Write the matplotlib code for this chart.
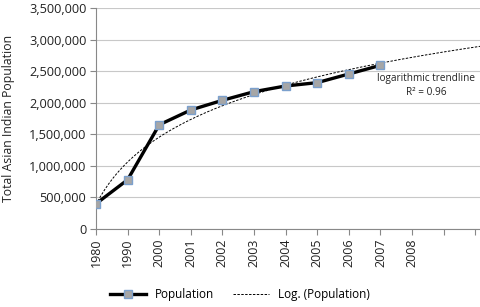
import numpy as np
import matplotlib
matplotlib.use("Agg")
import matplotlib.pyplot as plt
from matplotlib.ticker import FuncFormatter

years = ["1980", "1990", "2000", "2001", "2002", "2003", "2004", "2005", "2006", "2007", "2008", "", ""]
population = [400000, 780000, 1650000, 1885000, 2038000, 2175000, 2265000, 2318000, 2455000, 2592000]
yticks = [0, 500000, 1000000, 1500000, 2000000, 2500000, 3000000, 3500000]

plt.rcParams['font.family'] = ['Open Sans', 'DejaVu Sans']

fig = plt.figure(figsize=(4.8, 3.07), dpi=100)
ax = fig.add_axes([0.2, 0.254, 0.8, 0.72])

x = np.arange(len(population))
ax.plot(x, population, color='black', lw=2.4, marker='s', markersize=5.5,
        markerfacecolor='#A6A6A6', markeredgecolor='#7BA0CD', markeredgewidth=1.0,
        label='Population', zorder=3)

# logarithmic trendline (Excel style, x = 1..n)
xi = x + 1
a, b = np.polyfit(np.log(xi), population, 1)
xt = np.linspace(0, 12.2, 300)
yt = a * np.log(xt + 1) + b
ax.plot(xt, yt, color='black', lw=0.7, ls=(0, (2.5, 1.5)), label='Log. (Population)', zorder=2)

ax.set_xlim(0, 12.15)
ax.set_ylim(0, 3500000)
ax.set_xticks(np.arange(len(years)))
ax.set_xticklabels(years, rotation=90, fontsize=9, color='#222222')
ax.set_yticks(yticks)
ax.yaxis.set_major_formatter(FuncFormatter(lambda v, p: f"{int(v):,}"))
ax.tick_params(axis='y', labelsize=9.2, colors='#222222', length=4, color='#888888', pad=3)
ax.tick_params(axis='x', length=4, color='#888888', pad=3)
ax.grid(axis='y', color='#C8C8C8', lw=0.8)
ax.set_axisbelow(True)
for s in ['top', 'right']:
    ax.spines[s].set_visible(False)
for s in ['left', 'bottom']:
    ax.spines[s].set_color('#888888')
    ax.spines[s].set_linewidth(0.8)

ax.set_ylabel('Total Asian Indian Population', fontsize=8.8, color='#222222')
ax.yaxis.set_label_coords(-0.212, 0.5)

ax.text(10.45, 2270000, 'logarithmic trendline\nR² = 0.96', ha='center', va='center',
        fontsize=7.2, color='#222222', linespacing=1.4)

leg = fig.legend(loc='lower center', bbox_to_anchor=(0.5, -0.015), ncol=2, frameon=False,
                 fontsize=8.5, handlelength=3.0, columnspacing=1.6)

fig.savefig('out.png', dpi=100)
